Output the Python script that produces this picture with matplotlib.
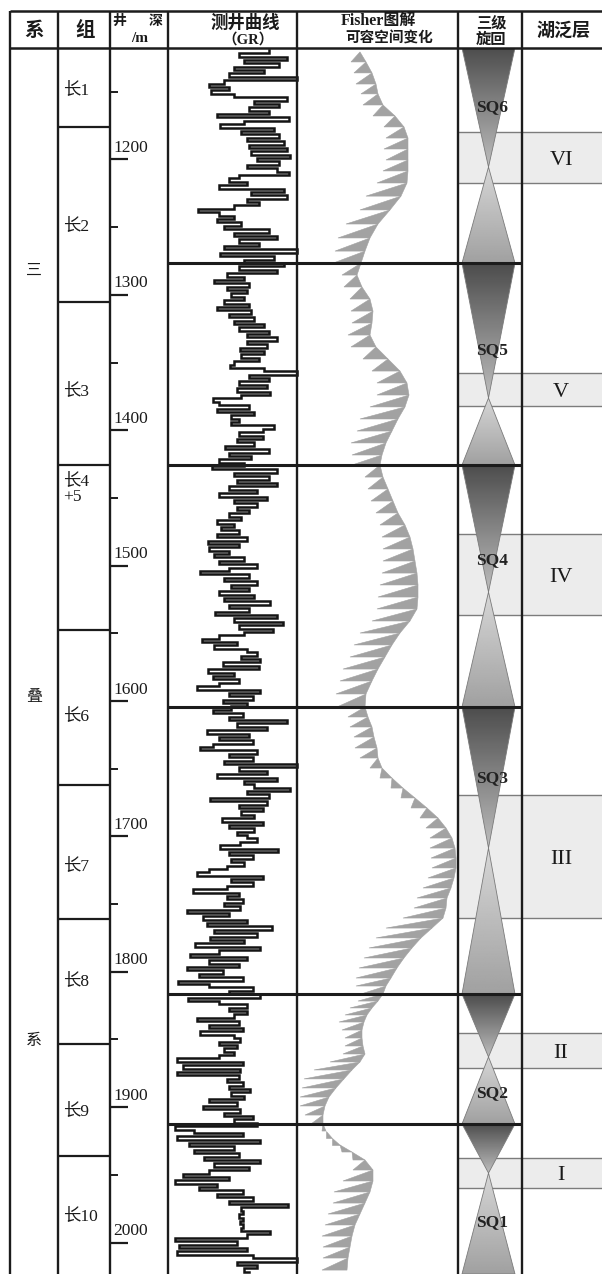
import numpy as np
import matplotlib
matplotlib.use("Agg")
import matplotlib.pyplot as plt
from matplotlib.patches import Polygon

# ---------------- data ----------------
# depth scale
major_ticks = [1200, 1300, 1400, 1500, 1600, 1700, 1800, 1900, 2000]
major_labels = ["1200", "1300", "1400", "1500", "1600", "1700", "1800", "1900", "2000"]
minor_ticks = [1150, 1250, 1350, 1450, 1550, 1650, 1750, 1850, 1950]

# system column
sys_chars = ["三", "叠", "系"]
sys_depth = [1281.7, 1597.0, 1850.4]

# formations (组)
fm_names = ["长1", "长2", "长3", "长4\n+5", "长6", "长7", "长8", "长9", "长10"]
fm_label_depth = [1149.0, 1249.2, 1371.0, 1443.4, 1611.1, 1721.9, 1806.8, 1902.8, 1980.4]
fm_bounds = [1176.0, 1305.3, 1425.7, 1547.6, 1662.0, 1761.0, 1853.3, 1936.1]

# GR log (sampled every 2.5 m from 1119 m), value = relative GR
gr_top, gr_step = 1119.0, 2.5
gr_values = [
    100, 70, 118, 75, 110, 65, 95, 60, 128, 55,
    40, 60, 42, 65, 118, 85, 110, 80, 100, 48,
    120, 75, 51, 105, 72, 110, 78, 115, 80, 118,
    82, 121, 88, 110, 78, 108, 120, 70, 60, 78,
    50, 115, 82, 118, 78, 90, 65, 29, 50, 65,
    48, 72, 55, 100, 65, 108, 70, 90, 55, 128,
    51, 105, 75, 115, 70, 108, 58, 75, 45, 80,
    58, 78, 62, 75, 55, 80, 48, 82, 60, 85,
    65, 95, 70, 100, 78,
    108, 78, 98, 71, 95,
    72, 90, 65, 61, 95, 128, 80, 100, 70, 98,
    68, 101, 72, 44, 50, 80, 48, 85, 62, 70,
    62, 105, 94, 70, 94, 68, 85, 56, 100, 60,
    82, 50, 75, 43, 108, 65, 100, 68, 108, 60,
    88, 50, 98, 65, 88, 68, 80, 60, 72, 48,
    65, 52, 70, 48, 78, 39, 70, 40, 60, 45,
    75, 50, 88, 60, 31, 80, 55, 88, 62, 80,
    50, 85, 55, 101, 60, 80, 46, 108, 65,
    114, 70, 104, 75, 50, 33, 68, 45, 78, 88,
    72, 91, 54, 90, 39, 65, 44, 70, 50, 28,
    91, 60, 84, 54, 78, 62, 44, 74, 60, 118,
    68, 98, 38, 80, 50, 84, 44, 31, 88, 60,
    84, 55, 128, 70, 98, 48, 108, 75, 85, 121,
    78, 100, 41, 98, 70, 94, 72, 85, 53, 94,
    60, 85, 68, 78, 88, 71, 51, 109, 60, 84,
    62, 75, 58, 40, 28, 94, 62, 84, 58, 24,
    70, 58, 74, 55, 71,
    18, 60, 34, 78, 38, 103, 45, 88, 41, 75,
    26, 91, 50, 21, 78, 40, 70, 18, 54, 30,
    74, 9, 40, 84, 60, 91, 19, 50, 78, 60,
    78, 65, 28, 70, 40, 74, 31, 65, 71, 50,
    68, 55, 65, 50, 8, 74, 14, 71, 8, 70,
    58, 74, 60, 81, 62, 75, 40, 68, 34, 71,
    55, 84, 65, 88, 6, 25, 74, 8, 91, 20,
    65, 25, 70, 35, 91, 45, 80, 40, 14, 60,
    6, 48, 30, 74, 48, 84, 60, 119, 72, 74,
    70, 74, 71, 74, 72, 101, 78, 6, 68, 10,
    78, 8, 84, 128, 68, 88, 75, 80,
]

# Fisher plot: tooth boundary depths, envelope value, tooth length (per tooth)
fisher_depth = [
    1120.6, 1128.0, 1136.1, 1144.3, 1151.6, 1159.8, 1167.9, 1176.0, 1184.2, 1192.3,
    1200.4, 1208.5, 1217.4, 1227.1, 1237.3, 1247.7, 1258.0, 1267.7, 1276.6,
    1285.4, 1294.2, 1303.1, 1312.0, 1320.8, 1329.7, 1338.5, 1347.4, 1356.3, 1365.1,
    1374.0, 1382.8, 1391.7, 1400.6, 1409.4, 1418.3, 1425.7,
    1434.6, 1443.4, 1452.3, 1461.1, 1470.0, 1478.9, 1487.7, 1496.6, 1505.5, 1514.3,
    1523.2, 1532.0, 1540.9, 1549.8, 1558.6, 1567.5, 1576.4, 1585.2, 1594.8, 1604.4,
    1611.8, 1619.2, 1626.6, 1634.7, 1642.1, 1649.5, 1656.9, 1664.3, 1671.6, 1679.0,
    1686.4, 1693.8, 1701.2, 1708.6, 1716.0, 1723.3, 1730.7, 1738.1, 1745.5, 1752.9,
    1760.3, 1767.7, 1775.0, 1782.4, 1789.8, 1797.2, 1804.6, 1810.5, 1816.4,
    1821.6, 1826.7, 1831.9, 1837.1, 1843.0, 1848.9, 1854.8, 1860.7, 1866.6, 1872.5,
    1879.1, 1885.8, 1892.5, 1899.1, 1905.8, 1912.4,
    1917.6, 1922.7, 1927.9, 1933.1, 1939.0, 1946.4, 1954.5, 1962.6, 1970.8, 1978.9,
    1987.0, 1995.2, 2003.3, 2011.4, 2020.3,
]
fisher_env = [
    62, 68, 74, 78, 80, 85, 97, 106, 110, 110, 110, 110, 109, 103, 92, 80, 72, 67, 63,
    59, 64, 72, 75, 74, 72, 78, 90, 102, 109, 111, 107, 100, 94, 88, 84, 82,
    85, 90, 95, 100, 107, 112, 115, 117, 119, 120, 120, 119, 112, 102, 94, 87, 80, 74, 68, 67,
    70, 74, 76, 79, 80, 84, 94, 105, 117, 129, 140, 148, 154, 157, 158, 158, 156, 153, 149,
    148, 145, 134, 123, 114, 106, 99, 93, 88, 85,
    80, 74, 69, 66, 64, 64, 65, 67, 62, 54, 46, 38, 31, 27, 25, 25,
    28, 34, 42, 54, 67, 75, 75, 72, 67, 62, 57, 54, 52, 50, 49,
]
fisher_len = [
    15, 18, 20, 17, 20, 22, 20, 22, 24, 22, 25, 30, 35, 30, 32, 32, 30, 28,
    15, 18, 20, 22, 20, 22, 25, 25, 28, 30, 32, 35, 38, 35, 35, 30, 28,
    18, 20, 22, 22, 25, 28, 30, 32, 35, 38, 40, 40, 38, 40, 38, 35, 35, 32, 30, 28,
    20, 22, 20, 22, 18, 12, 12, 12, 14, 16, 18, 20, 22, 25, 25, 24, 26, 28, 30, 32,
    40, 46, 45, 43, 40, 38, 35, 30, 22,
    20, 22, 22, 25, 20, 17, 18, 22, 30, 38, 40, 34, 29, 25, 18, 12,
    4, 6, 8, 10, 12, 20, 30, 36, 32, 32, 30, 30, 27, 25, 25,
]

# third-order sequences
seq_names = ["SQ6", "SQ5", "SQ4", "SQ3", "SQ2", "SQ1"]
seq_top = [1117.7, 1276.6, 1425.7, 1604.4, 1816.4, 1912.4]
seq_apex = [1205.6, 1376.2, 1519.5, 1708.6, 1862.9, 1948.6]
seq_base = [1276.6, 1425.7, 1604.4, 1816.4, 1912.4, 2023.2]
seq_label_depth = [1161.3, 1340.8, 1495.9, 1656.9, 1889.5, 1984.8]

# lake flooding surfaces (湖泛层)
band_names = ["VI", "V", "IV", "III", "II", "I"]
band_top = [1179.7, 1357.7, 1476.7, 1669.4, 1845.2, 1937.5]
band_base = [1217.4, 1382.1, 1536.5, 1760.3, 1871.1, 1959.7]

# ---------------- layout ----------------
W, H = 602, 1274
D_TOP, D_BOT = 1117.7, 2023.2
Y0, Y1 = 48, 1274
HDR_TOP = 11
col_x = [10, 58, 110, 168, 297, 458, 522]
LINE = "#1c1c1c"
CJK = ["Noto Sans CJK SC", "DejaVu Sans"]
SER = ["Liberation Serif", "Noto Sans CJK SC", "DejaVu Sans"]

fig = plt.figure(figsize=(W / 100, H / 100), dpi=100)
fig.patch.set_facecolor("white")


def add_ax(x0, x1, y0, y1, z):
    ax = fig.add_axes([x0 / W, 1 - y1 / H, (x1 - x0) / W, (y1 - y0) / H])
    ax.set_zorder(z)
    ax.patch.set_alpha(0)
    ax.axis("off")
    return ax


# bands (bottom layer)
ax_band = add_ax(0, W, Y0, Y1, 1)
for t, b in zip(band_top, band_base):
    ax_band.fill_between([458, 602], t, b, color="#ececec", lw=0)
    ax_band.hlines([t, b], 458, 602, color="#7c7c7c", lw=1.0)
ax_band.set_xlim(0, W)
ax_band.set_ylim(D_BOT, D_TOP)

# GR curve
ax_gr = add_ax(169, 297, Y0, Y1, 2)
gr_depth = gr_top + gr_step * np.arange(len(gr_values))
ax_gr.plot(gr_values, gr_depth, drawstyle="steps-pre", color="#141414",
           lw=1.8, clip_on=False, solid_joinstyle="miter")
ax_gr.set_xlim(0, 128)
ax_gr.set_ylim(D_BOT, D_TOP)

# Fisher plot
ax_f = add_ax(298, 458, Y0, Y1, 2)
for k in range(len(fisher_depth) - 1):
    d0, d1 = fisher_depth[k], fisher_depth[k + 1]
    e0, e1 = fisher_env[k], fisher_env[k + 1]
    L = fisher_len[k]
    ax_f.add_patch(Polygon([(e0, d0), (e1 - L, d1), (e1, d1)], closed=True,
                           fc="#a2a2a2", ec="#a2a2a2", lw=0.4))
ax_f.set_xlim(0, 160)
ax_f.set_ylim(D_BOT, D_TOP)

# sequence triangles
ax_c = add_ax(458, 522, Y0, Y1, 2)
C, HW = 30.5, 26.5
for top, apex, base in zip(seq_top, seq_apex, seq_base):
    tri1 = Polygon([(C - HW, top), (C + HW, top), (C, apex)], closed=True,
                   fc="none", ec="#7a7a7a", lw=0.6)
    ax_c.add_patch(tri1)
    g1 = np.linspace(0.30, 0.74, 120).reshape(-1, 1)
    im1 = ax_c.imshow(g1, cmap="gray", vmin=0, vmax=1, origin="upper",
                      extent=[C - HW, C + HW, apex, top], aspect="auto",
                      interpolation="bilinear")
    im1.set_clip_path(tri1)
    tri2 = Polygon([(C, apex), (C - HW, base), (C + HW, base)], closed=True,
                   fc="none", ec="#7a7a7a", lw=0.6)
    ax_c.add_patch(tri2)
    g2 = np.linspace(0.84, 0.63, 120).reshape(-1, 1)
    im2 = ax_c.imshow(g2, cmap="gray", vmin=0, vmax=1, origin="upper",
                      extent=[C - HW, C + HW, base, apex], aspect="auto",
                      interpolation="bilinear")
    im2.set_clip_path(tri2)
ax_c.set_xlim(0, 64)
ax_c.set_ylim(D_BOT, D_TOP)

# lines and labels in depth coordinates
ax_t = add_ax(0, W, Y0, Y1, 3)
ax_t.set_xlim(0, W)
ax_t.set_ylim(D_BOT, D_TOP)
ax_t.hlines(seq_base[:-1], 168, 522, color=LINE, lw=2.2)
ax_t.hlines(fm_bounds, 58, 110, color=LINE, lw=1.6)
ax_t.hlines(major_ticks, 110, 128, color=LINE, lw=1.6)
ax_t.hlines(minor_ticks, 110, 118, color=LINE, lw=1.4)
for d, lab in zip(major_ticks, major_labels):
    ax_t.text(113, d - 2.5, lab, ha="left", va="bottom", fontsize=12.5,
              family=SER, color="#1a1a1a")
for d, lab in zip(fm_label_depth, fm_names):
    ax_t.text(63, d, lab, ha="left", va="center", fontsize=12.5,
              family=SER, color="#1a1a1a", linespacing=0.95)
for d, ch in zip(sys_depth, sys_chars):
    ax_t.text(34, d, ch, ha="center", va="center", fontsize=11.5,
              family=CJK, color="#1a1a1a")
for d, lab in zip(seq_label_depth, seq_names):
    ax_t.text(492, d, lab, ha="center", va="center", fontsize=12.5,
              family=SER, weight="bold", color="#222222")
for t, b, lab in zip(band_top, band_base, band_names):
    ax_t.text(561, (t + b) / 2 + 2, lab, ha="center", va="center", fontsize=16,
              family=SER, color="#1a1a1a")

# frame and header (pixel coordinates)
ax_h = add_ax(0, W, 0, H, 4)
ax_h.set_xlim(0, W)
ax_h.set_ylim(H, 0)
ax_h.vlines(col_x, HDR_TOP, H, color=LINE, lw=1.7)
ax_h.hlines([HDR_TOP, Y0], col_x[0], W, color=LINE, lw=1.8)
hkw = dict(ha="center", va="center", color="#1a1a1a", weight="bold")
ax_h.text(34, 30, "系", fontsize=14, family=CJK, **hkw)
ax_h.text(85, 30, "组", fontsize=14, family=CJK, **hkw)
ax_h.text(119, 21, "井", fontsize=10, family=CJK, **hkw)
ax_h.text(156, 21, "深", fontsize=10, family=CJK, **hkw)
ax_h.text(140, 39, "/m", fontsize=11, family=SER, **hkw)
ax_h.text(245, 23, "测井曲线", fontsize=12.5, family=CJK, **hkw)
ax_h.text(248, 40, "（GR）", fontsize=10.5, family=SER, **hkw)
ax_h.text(378, 21, "Fisher图解", fontsize=11.5, family=SER, **hkw)
ax_h.text(389, 38, "可容空间变化", fontsize=10.5, family=CJK, **hkw)
ax_h.text(491, 22, "三级", fontsize=11, family=CJK, **hkw)
ax_h.text(491, 39, "旋回", fontsize=11, family=CJK, **hkw)
ax_h.text(563, 30, "湖泛层", fontsize=13, family=CJK, **hkw)

fig.savefig("out.png", dpi=100)
